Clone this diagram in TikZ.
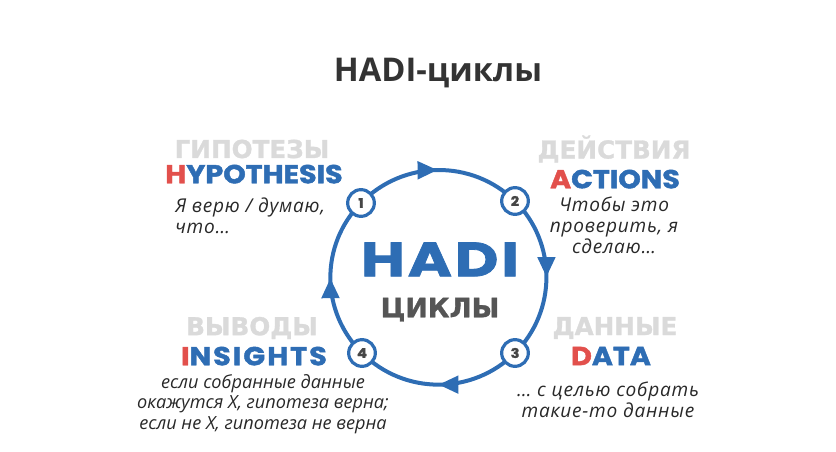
\documentclass[tikz,border=0pt]{standalone}
\usepackage{fontspec}
\setmainfont{Open Sans}
\newfontfamily\latinhead{Poppins}[BoldFeatures={FakeBold=1.6, FakeStretch=1.1}]
\newfontfamily\hubfont{Poppins}[BoldFeatures={FakeBold=1.6, FakeStretch=1.25, LetterSpace=6}]
\newfontfamily\cyrhead{DejaVu Sans}[BoldFeatures={FakeBold=1.2}]
\newfontfamily\notefont{Open Sans}[LetterSpace=4]
\newfontfamily\notetight{Open Sans}
\usetikzlibrary{arrows.meta, positioning, decorations.markings, backgrounds}
\definecolor{hadiblue}{RGB}{46,109,180}
\definecolor{hadired}{RGB}{226,80,76}
\definecolor{headgray}{RGB}{218,218,218}
\definecolor{textdark}{RGB}{40,40,40}
\definecolor{titledark}{RGB}{51,51,51}
\definecolor{numgray}{RGB}{70,70,70}
\definecolor{cyclegray}{RGB}{85,85,85}

\begin{document}
\begin{tikzpicture}[x=0.75pt, y=-0.75pt,
  rusbox/.style={font=\cyrhead\bfseries\fontsize{18.5}{18.5}\selectfont, text=headgray, inner sep=0pt},
  engbox/.style={font=\latinhead\bfseries\fontsize{19.5}{19.5}\selectfont, text=hadiblue, inner sep=0pt, text depth=0pt},
  notebox/.style={font=\notefont\itshape\fontsize{14.3}{15.5}\selectfont, text=textdark, align=center, inner sep=0pt},
  numbox/.style={circle, draw=hadiblue, line width=2.4pt, fill=white, minimum size=20pt, inner sep=0pt, font=\latinhead\bfseries\fontsize{10}{10}\selectfont, text=numgray},
  ring/.style={draw=hadiblue, line width=3pt, postaction={decorate}, decoration={markings, mark=at position 0.5 with {\arrow[hadiblue]{Triangle[length=15pt,width=13pt]}}}}
]
  \useasboundingbox (0,0) rectangle (836,452);

  \node[font=\bfseries\fontsize{24.5}{24.5}\selectfont, text=titledark] (title) at (438,73) {HADI-циклы};

  % hub
  \node[align=center, inner sep=0pt, font=\fontsize{10}{30.75}\selectfont] (hub) at (440,282)
    {{\hubfont\bfseries\fontsize{36}{30.75}\selectfont\color{hadiblue}HADI}\\
     {\cyrhead\bfseries\fontsize{20}{30.75}\selectfont\color{cyclegray}ЦИКЛЫ}};

  % steps on the ring
  \node[numbox] (n1) at (361,203) {1};
  \node[numbox] (n2) at (515,201) {2};
  \node[numbox] (n3) at (515,353) {3};
  \node[numbox] (n4) at (362,353) {4};

  \begin{pgfonlayer}{background}
    \draw[ring] (n1.center) to[bend left=45] (n2.center);
    \draw[ring] (n2.center) to[bend left=45] (n3.center);
    \draw[ring] (n3.center) to[bend left=45] (n4.center);
    \draw[ring] (n4.center) to[bend left=45] (n1.center);
  \end{pgfonlayer}

  % hypothesis
  \node[rusbox] (hyp ru) at (252,149) {ГИПОТЕЗЫ};
  \node[engbox] (hyp en) at (254,174) {\textcolor{hadired}{H}YPOTHESIS};
  \node[notebox, align=left, anchor=north west] (hyp note) at (175,198) {Я верю / думаю,\\что…};

  % actions
  \node[rusbox] (act ru) at (614,149) {ДЕЙСТВИЯ};
  \node[engbox] (act en) at (615,179) {\textcolor{hadired}{A}CTIONS};
  \node[notebox, anchor=north] (act note) at (614,197) {Чтобы это\\проверить, я\\сделаю…};

  % insights
  \node[rusbox] (ins ru) at (252,328) {ВЫВОДЫ};
  \node[engbox, font=\latinhead\bfseries\fontsize{19.5}{19.5}\selectfont\addfontfeature{LetterSpace=8}] (ins en) at (254,356) {\textcolor{hadired}{I}NSIGHTS};
  \node[notebox, font=\notetight\itshape\fontsize{13.6}{15.5}\selectfont, anchor=north] (ins note) at (263,374) {если собранные данные\\окажутся X, гипотеза верна;\\если не X, гипотеза не верна};

  % data
  \node[rusbox] (dat ru) at (615,328) {ДАННЫЕ};
  \node[engbox] (dat en) at (611,356) {\textcolor{hadired}{D}ATA};
  \node[notebox, anchor=north] (dat note) at (608,382) {… с целью собрать\\такие-то данные};
\end{tikzpicture}
\end{document}
